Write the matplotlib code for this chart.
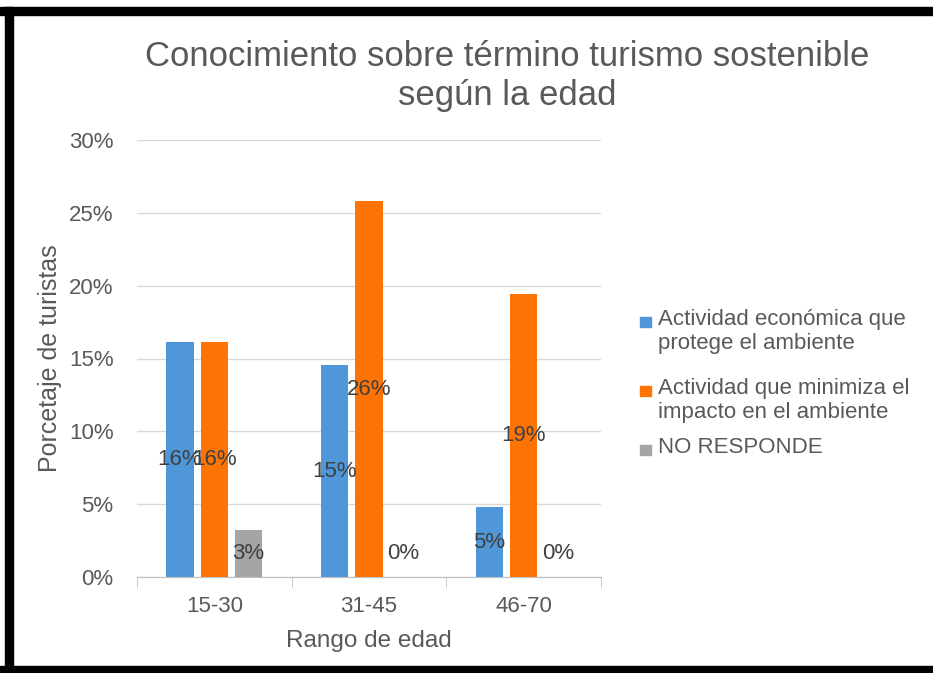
import matplotlib
matplotlib.use("Agg")
import matplotlib.pyplot as plt
from matplotlib.patches import Rectangle
import numpy as np

plt.rcParams['font.family'] = ['Liberation Sans', 'DejaVu Sans']

# datos
categorias = ['15-30', '31-45', '46-70']
series = ['Actividad económica que\nprotege el ambiente',
          'Actividad que minimiza el\nimpacto en el ambiente',
          'NO RESPONDE']
eco = [0.161, 0.1452, 0.048]
minimiza = [0.161, 0.258, 0.194]
no_resp = [0.032, 0.0, 0.0]
colores = ['#4f97d8', '#fd7304', '#a5a5a5']

W, H = 933, 673
fig = plt.figure(figsize=(W / 100, H / 100), dpi=100)
ax = fig.add_axes([137 / W, 1 - 577 / H, (601 - 137) / W, (577 - 140) / H])

x = np.arange(len(categorias))
ancho = 0.175
paso = 0.222
valores = [eco, minimiza, no_resp]
for i, (vals, col) in enumerate(zip(valores, colores)):
    pos = x + (i - 1) * paso
    ax.bar(pos, vals, width=ancho, color=col, zorder=2)
    for px, v in zip(pos, vals):
        txt = '%d%%' % round(v * 100)
        if v > 0:
            ax.text(px, v / 2, txt, ha='center', va='center', fontsize=16,
                    color='#404040', zorder=3)
        else:
            ax.annotate(txt, (px, 0), xytext=(0, 17), textcoords='offset points',
                        ha='center', va='center', fontsize=16, color='#404040')

ax.set_xlim(-0.5, 2.5)
ax.set_ylim(0, 0.30)
ax.set_yticks(np.arange(0, 0.31, 0.05))
ax.set_yticklabels(['%d%%' % round(t * 100) for t in np.arange(0, 0.31, 0.05)])
ax.yaxis.grid(True, color='#d9d9d9', linewidth=1, zorder=0)
ax.set_axisbelow(True)
for s in ['top', 'right', 'left']:
    ax.spines[s].set_visible(False)
ax.spines['bottom'].set_color('#bfbfbf')
ax.tick_params(axis='y', length=0, pad=17, labelsize=16, labelcolor='#595959')
ax.set_xticks(x)
ax.set_xticklabels(categorias)
ax.tick_params(axis='x', length=0, pad=14, labelsize=16, labelcolor='#595959')
ax.set_xticks([-0.5, 0.5, 1.5, 2.5], minor=True)
ax.tick_params(axis='x', which='minor', length=7, color='#bfbfbf', direction='out')

ax.set_xlabel('Rango de edad', fontsize=17.5, color='#595959', labelpad=9)
ax.set_ylabel('Porcetaje de turistas', fontsize=18, color='#595959', labelpad=5)

fig.text(507 / W, 1 - 76 / H, 'Conocimiento sobre término turismo sostenible\nsegún la edad',
         ha='center', va='center', fontsize=25, color='#595959', linespacing=1.2)

# leyenda
leyenda_y = [322, 391, 450]
for lab, col, yy in zip(series, colores, leyenda_y):
    fig.add_artist(Rectangle((640 / W, 1 - (yy + 5) / H), 11 / W, 10 / H,
                             transform=fig.transFigure, color=col))
    fig.text(658 / W, 1 - (yy - 13) / H, lab, ha='left', va='top', fontsize=16,
             color='#595959', linespacing=1.2)

# marco negro
fig.add_artist(Rectangle((0, 1 - 15 / H), 1, 8 / H, transform=fig.transFigure, color='black'))
fig.add_artist(Rectangle((5 / W, 0), 8 / W, 1 - 7 / H, transform=fig.transFigure, color='black'))
fig.add_artist(Rectangle((0, 0), 1, 7 / H, transform=fig.transFigure, color='black'))

fig.savefig('out.png', dpi=100)
